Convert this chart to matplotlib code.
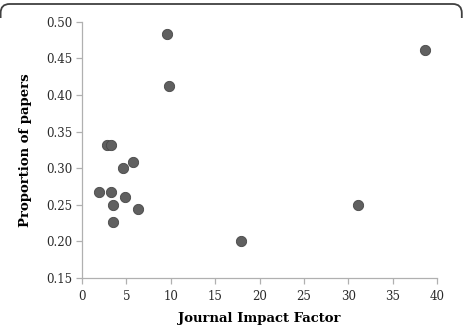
import matplotlib
matplotlib.use('Agg')
import matplotlib.pyplot as plt
from matplotlib.path import Path
from matplotlib.patches import PathPatch

# journal impact factor vs proportion of papers
impact_factor = [9.6, 9.8, 38.6, 31.1, 17.9, 2.85, 3.25, 5.7, 4.6, 1.95, 3.3, 4.9, 3.45, 6.3, 3.5]
proportion = [0.483, 0.412, 0.462, 0.250, 0.200, 0.331, 0.331, 0.308, 0.300, 0.268, 0.268, 0.261, 0.250, 0.244, 0.227]

x_ticks = [0, 5, 10, 15, 20, 25, 30, 35, 40]
y_ticks = [0.15, 0.20, 0.25, 0.30, 0.35, 0.40, 0.45, 0.50]

plt.rcParams['font.family'] = ['DejaVu Serif']

W, H = 463, 328
fig = plt.figure(figsize=(W / 100, H / 100), dpi=100)
ax = fig.add_axes([82 / W, 1 - 278 / H, (437 - 82) / W, (278 - 21.7) / H])

ax.scatter(impact_factor, proportion, s=55, c='#606060', edgecolors='#484848',
           linewidths=0.6, zorder=3)

ax.set_xlim(0, 40)
ax.set_ylim(0.15, 0.50)
ax.set_xticks(x_ticks)
ax.set_yticks(y_ticks)
ax.set_yticklabels(['%.2f' % v for v in y_ticks])
for side in ['top', 'right']:
    ax.spines[side].set_visible(False)
for side in ['left', 'bottom']:
    ax.spines[side].set_color('#b0b0b0')
    ax.spines[side].set_linewidth(0.9)
ax.tick_params(direction='out', length=4, width=0.9, color='#b0b0b0',
               labelsize=8.5, labelcolor='#2a2a2a', pad=3)
ax.tick_params(axis='x', pad=5)

ax.set_xlabel('Journal Impact Factor', fontsize=9.5, fontweight='bold', labelpad=6)
ax.set_ylabel('Proportion of papers', fontsize=9.5, fontweight='bold', labelpad=10)

# rounded frame line along the top of the figure (pixel coords, y down)
r = 9
pts = [(0.6, 18), (0.6, 4 + r), (0.6, 4), (0.6 + r, 4),
       (W - 1.2 - r, 4), (W - 1.2, 4), (W - 1.2, 4 + r), (W - 1.2, 18)]
codes = [Path.MOVETO, Path.LINETO, Path.CURVE3, Path.CURVE3,
         Path.LINETO, Path.CURVE3, Path.CURVE3, Path.LINETO]
verts = [(x / W, 1 - y / H) for x, y in pts]
frame = PathPatch(Path(verts, codes), transform=fig.transFigure, fill=False,
                  edgecolor='#404040', linewidth=1.3, clip_on=False)
fig.patches.append(frame)

plt.savefig('out.png', dpi=100)
